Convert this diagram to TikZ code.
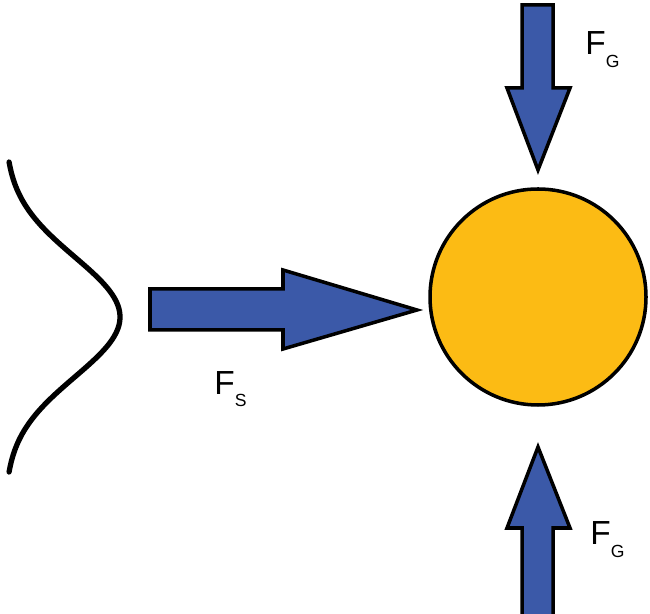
\documentclass[tikz,border=0pt]{standalone}
\usepackage{fontspec}
\setmainfont{Liberation Sans}
\usetikzlibrary{positioning}
\definecolor{forceblue}{RGB}{59,89,168}
\definecolor{ballyellow}{RGB}{252,187,20}

\newcommand{\forcelabel}[2]{F\raisebox{-#2}{\fontsize{10}{10}\selectfont #1}}

\begin{document}
\begin{tikzpicture}[
        force/.style={draw=black, line width=2pt, fill=forceblue, line join=miter},
        ball/.style={draw=black, circle, line width=2pt, fill=ballyellow, minimum size=4.32cm, inner sep=0pt},
        flabel/.style={anchor=base west, inner sep=0pt, font=\fontsize{19}{19}\selectfont}
    ]
        \useasboundingbox (0,0) rectangle (13,12.28);

        % Particle
        \node[ball] (ball) at (10.76,6.34) {};

        % Wave profile (Gaussian)
        \draw[line width=3pt, line cap=round, variable=\t, domain=-3.1:3.1, samples=90, smooth]
            plot ({0.1+2.3*exp(-((\t)^2)/2.88)}, {5.94+\t});

        % Scattering force
        \draw[force] (3.0,6.50) -- (5.66,6.50) -- (5.66,6.88) -- (8.34,6.08)
            -- (5.66,5.30) -- (5.66,5.68) -- (3.0,5.68) -- cycle;
        \node[flabel] (fs) at (4.28,4.38) {\forcelabel{S}{6.8pt}};

        % Gradient force from above
        \draw[force] (10.44,12.18) -- (11.06,12.18) -- (11.06,10.52) -- (11.40,10.52)
            -- (10.76,8.88) -- (10.14,10.52) -- (10.44,10.52) -- cycle;
        \node[flabel] (fgtop) at (11.70,11.18) {\forcelabel{G}{7.2pt}};

        % Gradient force from below
        \draw[force] (10.44,-0.2) -- (11.06,-0.2) -- (11.06,1.72) -- (11.40,1.72)
            -- (10.76,3.34) -- (10.14,1.72) -- (10.44,1.72) -- cycle;
        \node[flabel] (fgbot) at (11.80,1.38) {\forcelabel{G}{7.2pt}};

    \end{tikzpicture}
\end{document}
